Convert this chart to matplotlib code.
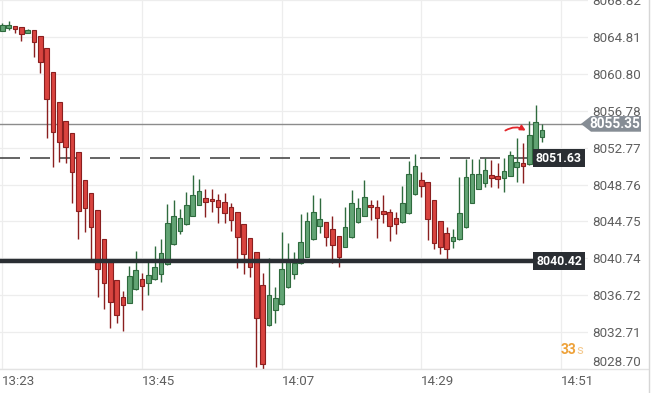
import numpy as np
import matplotlib

matplotlib.use("Agg")
import matplotlib.pyplot as plt
from matplotlib import transforms
from matplotlib.lines import Line2D
from matplotlib.patches import Polygon

plt.rcParams["font.family"] = ["Roboto", "DejaVu Sans"]

# one candle per minute, starting 13:23
opens = [8065.45, 8065.74, 8065.96, 8065.85, 8065.26, 8065.53, 8064.87, 8063.57, 8060.96, 8057.70,
         8055.63, 8054.33, 8052.26, 8049.22, 8047.80, 8045.95, 8042.80, 8040.47, 8038.34, 8036.49,
         8035.91, 8037.36, 8038.45, 8038.10, 8038.45, 8039.00, 8040.12, 8042.26, 8043.74, 8044.43,
         8045.37, 8046.53, 8047.26, 8047.15, 8047.11, 8046.82, 8046.28, 8045.74, 8044.43, 8042.91,
         8041.39, 8037.80, 8033.45, 8035.11, 8035.77, 8037.58, 8039.03, 8040.19, 8040.93, 8042.80,
         8044.25, 8044.65, 8043.89, 8043.13, 8042.00, 8043.02, 8044.71, 8045.37, 8046.53, 8046.35,
         8045.85, 8045.74, 8045.08, 8044.63, 8045.63, 8047.73, 8049.22, 8049.00, 8047.07, 8044.79,
         8043.45, 8042.65, 8042.80, 8044.11, 8046.80, 8048.24, 8048.95, 8049.79, 8049.68, 8049.43,
         8049.72, 8050.69, 8051.06, 8050.99, 8052.43, 8053.96]
highs = [8066.32, 8066.54, 8066.00, 8065.88, 8065.70, 8065.56, 8064.91, 8063.60, 8060.99, 8057.73,
         8055.66, 8054.36, 8052.29, 8049.25, 8047.83, 8045.99, 8042.83, 8040.55, 8038.38, 8037.21,
         8039.90, 8041.56, 8039.10, 8040.33, 8042.07, 8042.87, 8046.64, 8047.07, 8046.06, 8047.91,
         8049.79, 8049.32, 8048.24, 8048.30, 8047.69, 8047.80, 8046.78, 8045.77, 8044.46, 8042.94,
         8041.42, 8039.17, 8040.73, 8037.65, 8043.56, 8042.37, 8041.45, 8045.55, 8045.77, 8047.62,
         8047.26, 8044.68, 8045.33, 8043.16, 8046.35, 8048.16, 8047.26, 8049.25, 8047.07, 8047.07,
         8047.62, 8046.06, 8045.77, 8048.60, 8051.35, 8052.08, 8050.09, 8049.03, 8047.10, 8044.82,
         8044.11, 8043.92, 8049.54, 8051.56, 8051.53, 8051.53, 8051.61, 8051.42, 8051.13, 8051.61,
         8052.43, 8053.78, 8053.24, 8055.70, 8057.40, 8055.34]
lows = [8065.40, 8065.56, 8065.20, 8064.39, 8065.23, 8062.66, 8060.92, 8053.85, 8050.69, 8051.24,
        8051.13, 8046.72, 8042.80, 8043.63, 8040.37, 8036.56, 8035.19, 8033.12, 8033.67, 8032.86,
        8035.87, 8037.29, 8035.11, 8036.74, 8038.38, 8038.13, 8040.06, 8042.18, 8043.38, 8044.35,
        8045.33, 8046.48, 8045.19, 8045.80, 8044.61, 8044.54, 8043.74, 8039.68, 8039.03, 8038.73,
        8028.90, 8028.37, 8033.37, 8033.67, 8035.71, 8037.51, 8038.48, 8040.12, 8040.88, 8042.72,
        8043.45, 8042.07, 8040.19, 8039.82, 8041.96, 8042.94, 8044.61, 8045.33, 8044.90, 8042.91,
        8044.61, 8042.65, 8043.43, 8044.57, 8045.55, 8047.67, 8047.37, 8042.72, 8041.75, 8041.24,
        8040.37, 8041.85, 8042.78, 8044.08, 8046.75, 8048.22, 8048.52, 8048.52, 8048.35, 8047.98,
        8049.68, 8049.06, 8048.89, 8050.93, 8052.40, 8053.35]
closes = [8066.10, 8066.10, 8065.63, 8065.09, 8065.53, 8064.22, 8062.11, 8058.09, 8054.43, 8053.35,
          8052.80, 8050.15, 8045.91, 8046.24, 8044.11, 8039.54, 8038.02, 8036.02, 8034.54, 8035.62,
          8038.81, 8039.46, 8037.76, 8038.92, 8039.76, 8041.28, 8044.54, 8045.30, 8045.08, 8046.53,
          8047.62, 8048.02, 8046.89, 8046.93, 8046.28, 8045.69, 8044.90, 8043.08, 8041.20, 8039.76,
          8034.21, 8029.21, 8036.71, 8036.39, 8039.54, 8040.44, 8040.19, 8042.47, 8044.76, 8045.74,
          8044.98, 8043.02, 8042.18, 8040.91, 8044.11, 8046.72, 8046.17, 8047.37, 8046.28, 8045.08,
          8045.52, 8044.28, 8044.43, 8046.72, 8049.87, 8050.74, 8048.65, 8044.98, 8042.37, 8041.94,
          8041.71, 8043.05, 8045.63, 8049.54, 8049.90, 8049.93, 8050.34, 8049.50, 8049.32, 8050.26,
          8051.97, 8051.24, 8050.80, 8054.14, 8055.52, 8054.69]

y_ticks = [8028.70, 8032.71, 8036.72, 8040.74, 8044.75, 8048.76,
           8052.77, 8056.78, 8060.80, 8064.81, 8068.82]
x_tick_minutes = [0, 22, 44, 66, 88]
x_tick_labels = ["13:23", "13:45", "14:07", "14:29", "14:51"]

last_price = 8055.35
dashed_level = 8051.63
support_level = 8040.42
timer_text = "33"

GREEN, GREEN_EDGE = "#62a474", "#2f6b3e"
RED, RED_EDGE = "#d9443f", "#8a1f1f"
LABEL_GREY = "#5f5f5f"

W, H = 652, 393
fig = plt.figure(figsize=(W / 100, H / 100), dpi=100)
ax = fig.add_axes([0, 24 / H, 588 / W, 369 / H])

o = np.array(opens)
c = np.array(closes)
hi = np.array(highs)
lo = np.array(lows)
x = np.arange(len(o))
up = c >= o

ax.vlines(x[up], lo[up], hi[up], color=GREEN_EDGE, linewidth=1.0, zorder=3)
ax.vlines(x[~up], lo[~up], hi[~up], color=RED_EDGE, linewidth=1.0, zorder=3)
ax.bar(x[up], (c - o)[up], bottom=o[up], width=0.72, color=GREEN,
       edgecolor=GREEN_EDGE, linewidth=0.8, zorder=4)
ax.bar(x[~up], (o - c)[~up], bottom=c[~up], width=0.72, color=RED,
       edgecolor=RED_EDGE, linewidth=0.8, zorder=4)

ax.set_xlim(-0.36, 92.24)
ax.set_ylim(y_ticks[0], y_ticks[-1])

ax.set_yticks(y_ticks)
ax.set_yticklabels([f"{v:.2f}" for v in y_ticks])
ax.yaxis.tick_right()
ax.set_xticks(x_tick_minutes)
ax.set_xticklabels(x_tick_labels)
ax.tick_params(axis="both", length=0, labelsize=9.6, labelcolor=LABEL_GREY)
ax.tick_params(axis="y", pad=3)
ax.tick_params(axis="x", pad=4)
for lab in ax.get_xticklabels():
    lab.set_horizontalalignment("left")
ax.get_yticklabels()[0].set_verticalalignment("bottom")

ax.grid(color="#ededed", linewidth=0.9)
ax.set_axisbelow(True)
for side in ["top", "left", "right", "bottom"]:
    ax.spines[side].set_visible(False)

# level lines
ax.axhline(last_price, xmin=0, xmax=1, color="#8c8c8c", linewidth=1.0, zorder=2)
ax.axhline(dashed_level, xmin=0, xmax=535 / 588, color="#4a4a4a", linewidth=1.2,
           dashes=(12, 6), zorder=2)
ax.axhline(support_level, xmin=0, xmax=535 / 588, color="#2a2e33", linewidth=3.2, zorder=5)

box_tf = transforms.blended_transform_factory(ax.transAxes, ax.transData)
for level in [dashed_level, support_level]:
    ax.text(559 / 588, level, f"{level:.2f}", transform=box_tf, ha="center", va="center",
            color="white", fontsize=8.8, fontweight="bold", zorder=6,
            bbox=dict(boxstyle="square,pad=0.22", fc="#2a2e33", ec="none"))

# current price tag
tag_tf = transforms.blended_transform_factory(fig.transFigure, ax.transData)
half = 0.85
tag = Polygon([(581 / W, last_price), (591 / W, last_price + half), (641 / W, last_price + half),
               (641 / W, last_price - half), (591 / W, last_price - half)],
              closed=True, transform=tag_tf, fc="#868d95", ec="none", clip_on=False, zorder=6)
fig.add_artist(tag)
fig.text(615 / W, 0, f"{last_price:.2f}", transform=tag_tf, ha="center", va="center",
         color="white", fontsize=9.8, fontweight="bold", zorder=7)
fig.texts[-1].set_y(last_price)

# frame lines outside the plot
fig.add_artist(Line2D([0, 648 / W], [24 / H, 24 / H], color="#e3e3e3", linewidth=1.0))
fig.add_artist(Line2D([649 / W, 649 / W], [0, 1], color="#d6d6d6", linewidth=1.0))

# timer
fig.text(576 / W, 1 - 350 / H, timer_text, ha="right", va="center", color="#eea23a",
         fontsize=10, fontweight="bold")
fig.text(576 / W, 1 - 351 / H, "s", ha="left", va="center", color="#f4c98e", fontsize=9.5)

# hand-drawn red arrow
fig.add_artist(matplotlib.patches.FancyArrowPatch(
    (503 / W, 1 - 132 / H), (528 / W, 1 - 132 / H), transform=fig.transFigure,
    connectionstyle="arc3,rad=-0.35", arrowstyle="-|>,head_length=3,head_width=1.6",
    color="#e3262b", linewidth=1.3, zorder=8))

fig.savefig("out.png", dpi=100)
